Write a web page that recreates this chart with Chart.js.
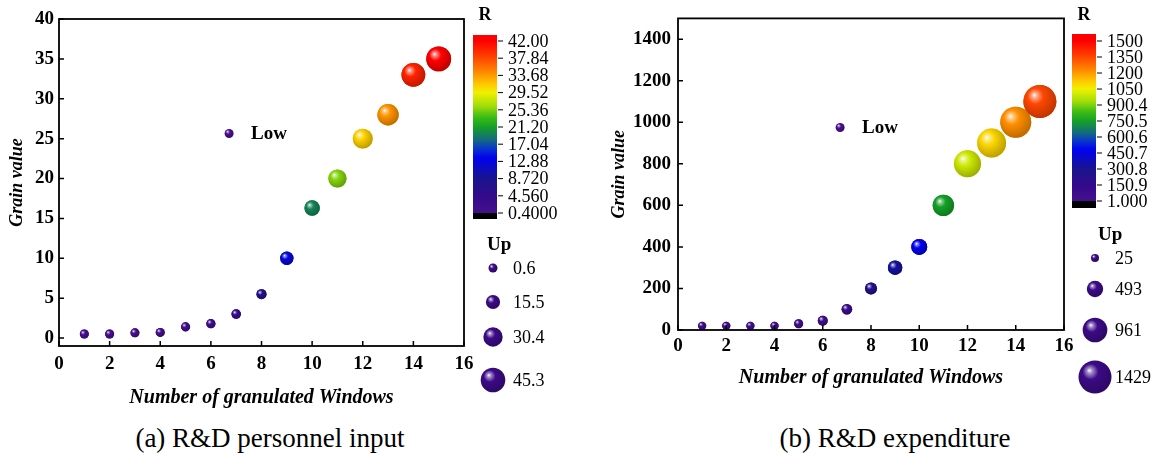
<!DOCTYPE html>
<html>
<head>
<meta charset="utf-8">
<script src="https://cdn.jsdelivr.net/npm/chart.js@4.4.1/dist/chart.umd.min.js"></script>
<style>
  body { margin: 0; background: #fff; width: 1164px; height: 473px; overflow: hidden; position: relative; }
  .panel { position: absolute; top: 0; width: 582px; height: 420px; }
  #panelA { left: 0; }
  #panelB { left: 582px; }
  .caption { position: absolute; top: 423px; width: 400px; text-align: center;
             font-family: "Liberation Serif", serif; font-size: 27px; color: #000; }
</style>
</head>
<body>
<div class="panel" id="panelA"><canvas id="chartA" width="582" height="420"></canvas></div>
<div class="panel" id="panelB"><canvas id="chartB" width="582" height="420"></canvas></div>
<div class="caption" style="left:70px">(a) R&amp;D personnel input</div>
<div class="caption" style="left:695px">(b) R&amp;D expenditure</div>
<script>
// data
const windows = [1, 2, 3, 4, 5, 6, 7, 8, 9, 10, 11, 12, 13, 14, 15];

const grainA = [0.5, 0.5, 0.65, 0.7, 1.4, 1.8, 3.0, 5.5, 10, 16.3, 20, 25, 28, 33, 35];
const colorA = [0.6, 0.6, 0.7, 0.8, 1.4, 1.8, 3.0, 7.5, 12.5, 19.5, 25.5, 31.2, 34, 40, 42];
const upA    = [0.6, 0.6, 0.6, 0.6, 1.0, 1.2, 2.0, 3.5, 13, 19, 27, 32, 36, 43, 46];

const grainB = [20, 20, 20, 20, 30, 45, 100, 200, 300, 400, 600, 800, 900, 1000, 1100];
const colorB = [20, 20, 20, 20, 30, 45, 100, 230, 330, 470, 750, 1000, 1100, 1220, 1350];
const upB    = [40, 40, 40, 40, 80, 135, 170, 250, 385, 475, 775, 1090, 1200, 1315, 1429];

const xTicks  = [0, 2, 4, 6, 8, 10, 12, 14, 16];
const yTicksA = [0, 5, 10, 15, 20, 25, 30, 35, 40];
const yTicksB = [0, 200, 400, 600, 800, 1000, 1200, 1400];

const colorTicksA = ['42.00', '37.84', '33.68', '29.52', '25.36', '21.20', '17.04', '12.88', '8.720', '4.560', '0.4000'];
const colorTicksB = ['1500', '1350', '1200', '1050', '900.4', '750.5', '600.6', '450.7', '300.8', '150.9', '1.000'];
const sizeTicksA = [0.6, 15.5, 30.4, 45.3];
const sizeTicksB = [25, 493, 961, 1429];

const SERIF = '"Liberation Serif", serif';

// rainbow map with dark purple at the low end
const cmap = [
  [0.00, [70, 15, 140]], [0.10, [50, 10, 140]], [0.20, [25, 20, 140]], [0.27, [10, 10, 200]],
  [0.32, [0, 0, 240]], [0.38, [10, 60, 200]], [0.43, [20, 110, 120]], [0.50, [20, 160, 40]],
  [0.56, [60, 190, 20]], [0.62, [160, 220, 10]], [0.70, [240, 240, 0]], [0.75, [255, 200, 0]],
  [0.80, [255, 153, 0]], [0.90, [255, 70, 0]], [1.00, [255, 0, 0]]
];

function colorAt(t) {
  t = Math.max(0, Math.min(1, t));
  for (let i = 1; i < cmap.length; i++) {
    if (t <= cmap[i][0]) {
      const [t0, c0] = cmap[i - 1], [t1, c1] = cmap[i];
      const f = (t - t0) / (t1 - t0);
      return c0.map((c, k) => Math.round(c + (c1[k] - c) * f));
    }
  }
  return cmap[cmap.length - 1][1];
}
const rgb = c => `rgb(${c[0]},${c[1]},${c[2]})`;
const mix = (c, w, f) => c.map((v, k) => Math.round(v + (w[k] - v) * f));

function drawSphere(ctx, x, y, r, c) {
  const g = ctx.createRadialGradient(x - r * 0.35, y - r * 0.4, 0, x - r * 0.15, y - r * 0.2, r * 1.2);
  g.addColorStop(0, 'rgba(255,255,255,1)');
  g.addColorStop(0.13, rgb(mix(c, [255, 255, 255], 0.55)));
  g.addColorStop(0.4, rgb(c));
  g.addColorStop(1, rgb(mix(c, [0, 0, 0], 0.25)));
  ctx.beginPath();
  ctx.arc(x, y, r, 0, Math.PI * 2);
  ctx.fillStyle = g;
  ctx.fill();
}

const decor = {
  id: 'decor',
  afterDatasetsDraw(chart, args, o) {
    const ctx = chart.ctx;
    const meta = chart.getDatasetMeta(0);
    ctx.save();
    meta.data.forEach((el, i) => {
      drawSphere(ctx, el.x, el.y, el.options.radius, colorAt((o.colors[i] - o.cmin) / (o.cmax - o.cmin)));
    });
    ctx.restore();
  },
  afterDraw(chart, args, o) {
    const ctx = chart.ctx;
    const a = chart.chartArea;
    ctx.save();
    ctx.strokeStyle = '#000';
    ctx.lineWidth = 1.8;
    ctx.strokeRect(a.left, a.top, a.right - a.left, a.bottom - a.top);
    // inward ticks
    ctx.lineWidth = 1.5;
    ctx.beginPath();
    chart.scales.x.ticks.forEach(t => {
      const px = chart.scales.x.getPixelForValue(t.value);
      ctx.moveTo(px, a.bottom); ctx.lineTo(px, a.bottom - 5);
    });
    chart.scales.y.ticks.forEach(t => {
      const py = chart.scales.y.getPixelForValue(t.value);
      ctx.moveTo(a.left, py); ctx.lineTo(a.left + 5, py);
    });
    ctx.stroke();

    // colour bar
    const bx = a.right + o.barGap, bw = o.barW;
    const g = ctx.createLinearGradient(0, o.tickBottom, 0, o.tickTop);
    for (let i = 0; i <= 40; i++) g.addColorStop(i / 40, rgb(colorAt(i / 40)));
    ctx.fillStyle = '#ff0000';
    ctx.fillRect(bx, o.barTop, bw, o.tickTop - o.barTop);
    ctx.fillStyle = g;
    ctx.fillRect(bx, o.tickTop, bw, o.tickBottom - o.tickTop);
    ctx.fillStyle = '#000';
    ctx.fillRect(bx, o.tickBottom, bw, o.barBottom - o.tickBottom);
    ctx.fillStyle = '#000';
    ctx.font = `bold 18px ${SERIF}`;
    ctx.textAlign = 'center';
    ctx.textBaseline = 'middle';
    ctx.fillText('R', bx + bw / 2, 15);
    ctx.font = `18px ${SERIF}`;
    ctx.textAlign = 'left';
    ctx.lineWidth = 1;
    o.colorTicks.forEach(label => {
      const v = parseFloat(label);
      const py = o.tickBottom - (v - o.cmin) / (o.cmax - o.cmin) * (o.tickBottom - o.tickTop);
      ctx.beginPath();
      ctx.moveTo(bx + bw + 1, py); ctx.lineTo(bx + bw + 6, py);
      ctx.stroke();
      ctx.fillText(label, bx + bw + 11, py + 1);
    });

    // size legend
    const purple = [60, 10, 135];
    ctx.font = `bold 19px ${SERIF}`;
    ctx.fillText('Up', a.right + o.upTitleDx, o.upTitleY);
    ctx.font = `18px ${SERIF}`;
    o.sizeTicks.forEach((v, i) => {
      drawSphere(ctx, a.right + o.dotDx, o.dotY[i], o.radius(v), purple);
      ctx.fillStyle = '#000';
      ctx.fillText(String(v), a.right + o.labelDx, o.dotY[i] + 1);
    });

    // "Low" marker
    const lx = a.left + 0.42 * (a.right - a.left);
    const ly = a.top + 0.35 * (a.bottom - a.top);
    drawSphere(ctx, lx, ly, 4.5, [75, 15, 145]);
    ctx.fillStyle = '#000';
    ctx.font = `bold 19px ${SERIF}`;
    ctx.fillText('Low', lx + 22, ly + 1);
    ctx.restore();
  }
};

function makeChart(id, c) {
  const tickFont = { family: SERIF, size: 19, weight: 'bold' };
  const titleFont = { family: SERIF, size: 20, weight: 'bold', style: 'italic' };
  return new Chart(document.getElementById(id), {
    type: 'bubble',
    data: {
      datasets: [{
        data: windows.map((x, i) => ({ x: x, y: c.grain[i], r: c.radius(c.up[i]) })),
        backgroundColor: ctx => rgb(colorAt((c.colors[ctx.dataIndex] - c.cmin) / (c.cmax - c.cmin))),
        borderWidth: 0,
        clip: false
      }]
    },
    options: {
      responsive: false,
      animation: false,
      events: [],
      layout: { padding: { left: 0, right: c.padRight, top: c.padTop, bottom: 0 } },
      plugins: {
        legend: { display: false },
        tooltip: { enabled: false },
        decor: {
          colors: c.colors, cmin: c.cmin, cmax: c.cmax, colorTicks: c.colorTicks,
          sizeTicks: c.sizeTicks, radius: c.radius,
          barGap: c.barGap, barW: 24, barTop: c.barTop, barBottom: c.barBottom,
          tickTop: c.tickTop, tickBottom: c.tickBottom,
          upTitleDx: c.upTitleDx, upTitleY: c.upTitleY, dotDx: c.dotDx, dotY: c.dotY, labelDx: c.labelDx
        }
      },
      scales: {
        x: {
          type: 'linear', min: 0, max: 16,
          afterBuildTicks: s => { s.ticks = xTicks.map(v => ({ value: v })); },
          afterFit: s => { s.height = c.xAxisH; },
          grid: { display: false, drawTicks: false },
          border: { display: false },
          ticks: { font: tickFont, color: '#000', padding: c.xTickPad, maxRotation: 0, callback: v => String(v) },
          title: { display: true, text: 'Number of granulated Windows', font: titleFont, color: '#000',
                   padding: { top: 0, bottom: c.xTitlePad } }
        },
        y: {
          type: 'linear', min: c.ymin, max: c.ymax,
          afterBuildTicks: s => { s.ticks = c.yTicks.map(v => ({ value: v })); },
          afterFit: s => { s.width = c.yAxisW; },
          grid: { display: false, drawTicks: false },
          border: { display: false },
          ticks: { font: tickFont, color: '#000', padding: c.yTickPad, callback: v => String(v) },
          title: { display: true, text: 'Grain value', font: { family: SERIF, size: 18, weight: 'bold', style: 'italic' },
                   color: '#000', padding: { top: c.yTitlePad, bottom: 0 } }
        }
      }
    },
    plugins: [decor]
  });
}

const radiusA = v => 4.5 + (v - sizeTicksA[0]) / (sizeTicksA[3] - sizeTicksA[0]) * 7.8;
const radiusB = v => 4.0 + (v - sizeTicksB[0]) / (sizeTicksB[3] - sizeTicksB[0]) * 12.5;

makeChart('chartA', {
  grain: grainA, colors: colorA, up: upA, radius: radiusA, cmin: 0.4, cmax: 42,
  colorTicks: colorTicksA, sizeTicks: sizeTicksA, yTicks: yTicksA, ymin: -1, ymax: 40,
  padRight: 118, padTop: 19, xAxisH: 74, yAxisW: 59,
  xTickPad: 7, xTitlePad: 10, yTickPad: 5, yTitlePad: 7,
  barGap: 9, barTop: 35, barBottom: 219, tickTop: 41, tickBottom: 213,
  upTitleDx: 23, upTitleY: 245, dotDx: 29, dotY: [268, 302, 337, 380], labelDx: 49
});

makeChart('chartB', {
  grain: grainB, colors: colorB, up: upB, radius: radiusB, cmin: 1, cmax: 1500,
  colorTicks: colorTicksB, sizeTicks: sizeTicksB, yTicks: yTicksB, ymin: 0, ymax: 1500,
  padRight: 100, padTop: 18, xAxisH: 90, yAxisW: 96,
  xTickPad: 5, xTitlePad: 30, yTickPad: 7, yTitlePad: 27,
  barGap: 8, barTop: 34, barBottom: 208, tickTop: 41, tickBottom: 201,
  upTitleDx: 34, upTitleY: 235, dotDx: 31, dotY: [258, 289, 330, 377], labelDx: 51
});
</script>
</body>
</html>
